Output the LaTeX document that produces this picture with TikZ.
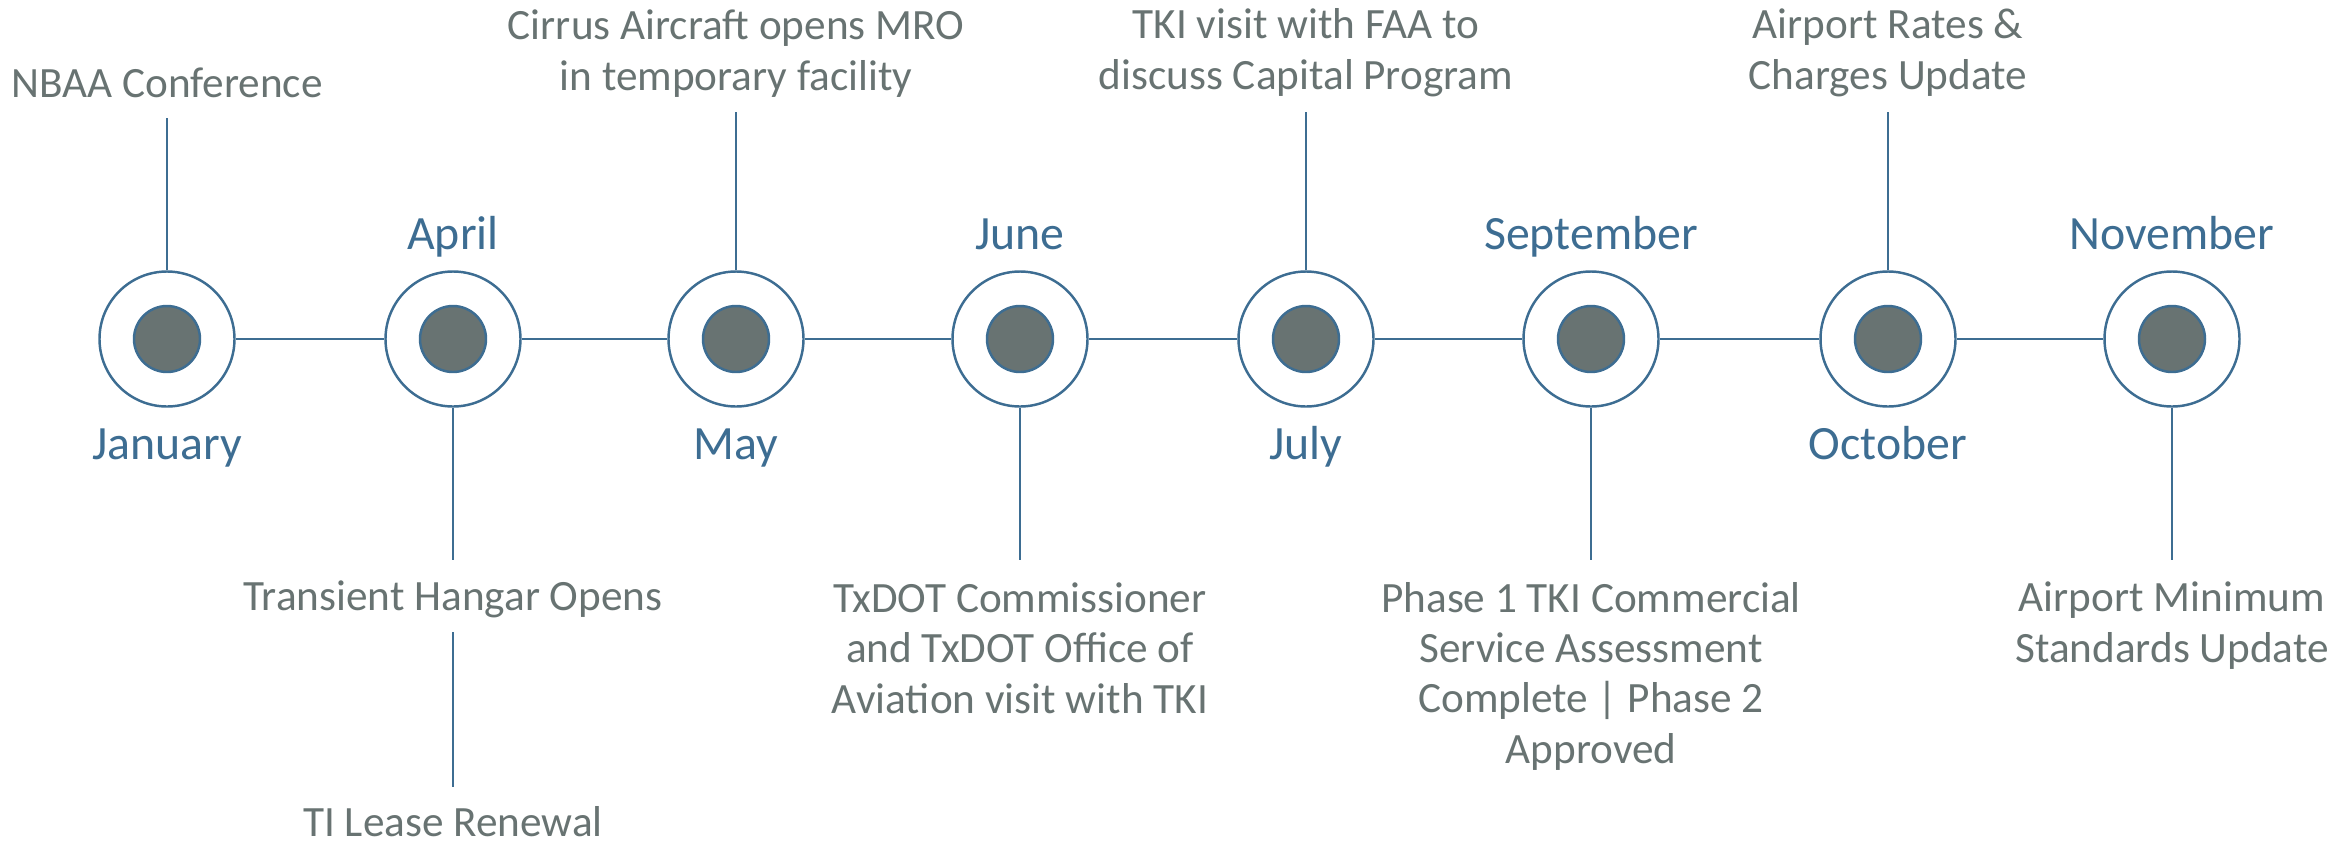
\documentclass[tikz,border=0pt]{standalone}
\usepackage{fontspec}
\setmainfont{Carlito}
\usepackage{tikz}
\usetikzlibrary{positioning}
\definecolor{tlblue}{RGB}{61,109,146}
\definecolor{tlgray}{RGB}{104,115,114}
\tikzset{
  link/.style={draw=tlblue, line width=0.7pt},
  ring/.style={
    circle, draw=tlblue, line width=0.7pt, fill=white,
    minimum size=1.35cm, inner sep=0pt
  },
  hub/.style={
    circle, draw=tlblue, line width=0.7pt, fill=tlgray,
    minimum size=0.66cm, inner sep=0pt
  },
  month/.style={
    text=tlblue, anchor=base, inner sep=0pt,
    font=\fontsize{13.6}{16}\selectfont
  },
  % multi-line: base is the last line
  event/.style={
    text=tlgray, anchor=base, inner sep=0pt, align=center,
    font=\fontsize{12.3}{14.3}\selectfont
  }
}

\begin{document}
\begin{tikzpicture}
  \useasboundingbox (0,-5.03) rectangle (23.43,3.39);
  \def\Up{2.27}
  \def\Dn{-2.21}

  % Rings on the line
  \node[ring] (jan) at (1.67,0) {};
  \node[ring] (apr) at (4.53,0) {};
  \node[ring] (may) at (7.36,0) {};
  \node[ring] (jun) at (10.20,0) {};
  \node[ring] (jul) at (13.06,0) {};
  \node[ring] (sep) at (15.91,0) {};
  \node[ring] (oct) at (18.88,0) {};
  \node[ring] (nov) at (21.72,0) {};

  \node[hub] (janhub) at (jan) {};
  \node[hub] (aprhub) at (apr) {};
  \node[hub] (mayhub) at (may) {};
  \node[hub] (junhub) at (jun) {};
  \node[hub] (julhub) at (jul) {};
  \node[hub] (sephub) at (sep) {};
  \node[hub] (octhub) at (oct) {};
  \node[hub] (novhub) at (nov) {};

  % Timeline
  \draw[link] (jan) -- (apr) (apr) -- (may) (may) -- (jun) (jun) -- (jul);
  \draw[link] (jul) -- (sep) (sep) -- (oct) (oct) -- (nov);

  % Months
  \node[month] (janlbl) at (1.67,-1.20) {January};
  \node[month] (aprlbl) at (4.53,0.90) {April};
  \node[month] (maylbl) at (7.36,-1.20) {May};
  \node[month] (junlbl) at (10.20,0.90) {June};
  \node[month] (jullbl) at (13.06,-1.20) {July};
  \node[month] (seplbl) at (15.91,0.90) {September};
  \node[month] (octlbl) at (18.88,-1.20) {October};
  \node[month] (novlbl) at (21.72,0.90) {November};

  % Events above
  \node[event] (nbaa) at (1.67,2.42) {NBAA Conference};
  \node[event] (cirrus) at (7.36,2.49) {Cirrus Aircraft opens MRO\\in temporary facility};
  \node[event] (faa) at (13.06,2.50) {TKI visit with FAA to\\discuss Capital Program};
  \node[event] (rates) at (18.88,2.50) {Airport Rates \&\\Charges Update};

  \coordinate (nbaaend) at (1.67,2.21);
  \coordinate (cirrusend) at (7.36,\Up);
  \coordinate (faaend) at (13.06,\Up);
  \coordinate (ratesend) at (18.88,\Up);
  \draw[link] (jan) -- (nbaaend);
  \draw[link] (may) -- (cirrusend);
  \draw[link] (jul) -- (faaend);
  \draw[link] (oct) -- (ratesend);

  % Events below
  \node[event] (hangar) at (4.53,-2.71) {Transient Hangar Opens};
  \node[event] (lease) at (4.53,-4.97) {TI Lease Renewal};
  \node[event] (txdot) at (10.20,-3.74) {TxDOT Commissioner\\and TxDOT Office of\\Aviation visit with TKI};
  \node[event] (phase) at (15.91,-4.24) {Phase 1 TKI Commercial\\Service Assessment\\Complete | Phase 2\\Approved};
  \node[event] (minstd) at (21.72,-3.23) {Airport Minimum\\Standards Update};

  \coordinate (hangarend) at (4.53,\Dn);
  \coordinate (txdotend) at (10.20,\Dn);
  \coordinate (phaseend) at (15.91,\Dn);
  \coordinate (minstdend) at (21.72,\Dn);
  \draw[link] (apr) -- (hangarend);
  \draw[link] (jun) -- (txdotend);
  \draw[link] (sep) -- (phaseend);
  \draw[link] (nov) -- (minstdend);

  \coordinate (leasetop) at (4.53,-2.93);
  \coordinate (leaseend) at (4.53,-4.48);
  \draw[link] (leasetop) -- (leaseend);
\end{tikzpicture}
\end{document}
